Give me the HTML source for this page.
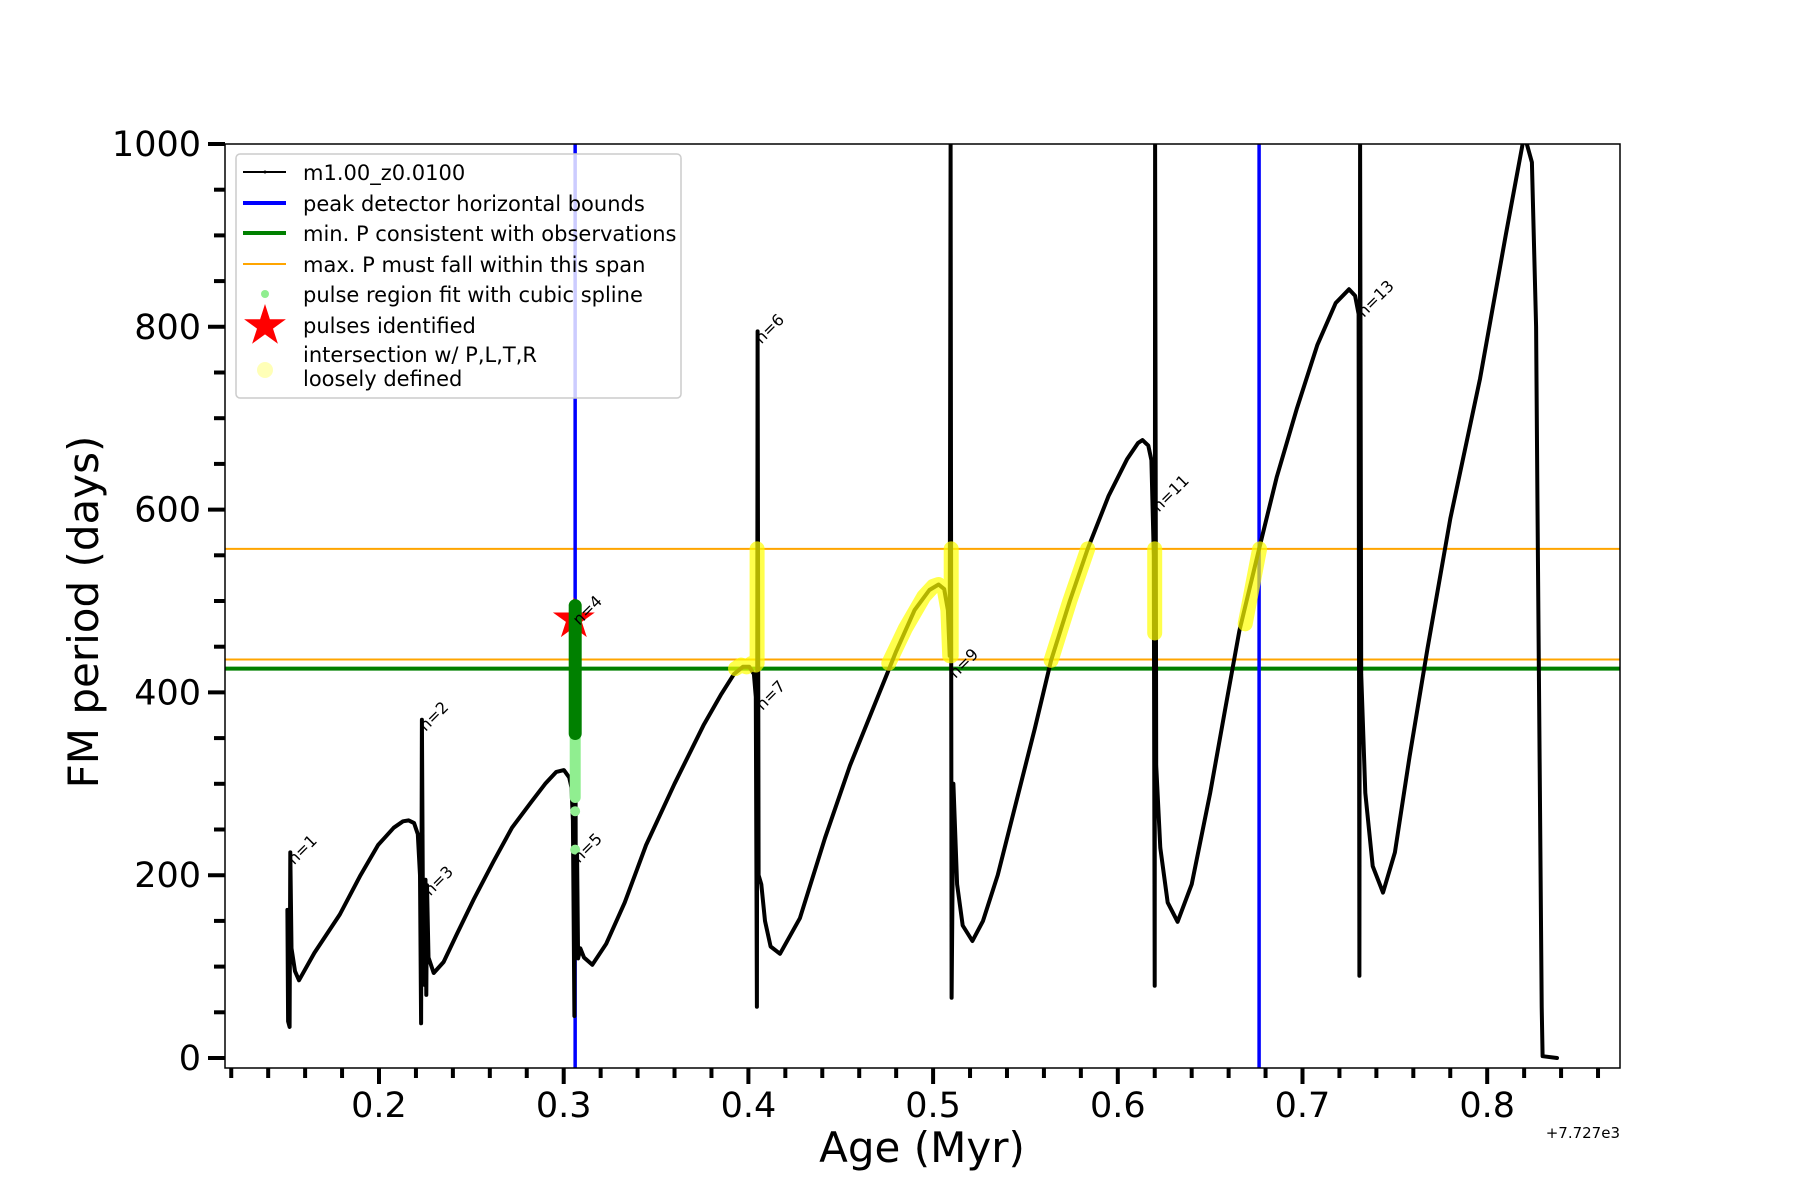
<!DOCTYPE html>
<html><head><meta charset="utf-8"><style>
html,body{margin:0;padding:0;background:#fff}
svg{display:block;font-family:"DejaVu Sans","Liberation Sans",sans-serif}
</style></head><body>
<svg id="chart" width="1800" height="1200" viewBox="0 0 1800 1200" xmlns="http://www.w3.org/2000/svg">
<rect x="0" y="0" width="1800" height="1200" fill="#fff"/>
<g id="plot"></g>
<rect x="225" y="144" width="1395" height="924" fill="none" stroke="#000" stroke-width="1.5"/>
<g id="axes"></g>
<text x="922" y="1162" font-size="42" text-anchor="middle">Age (Myr)</text>
<text x="0" y="0" font-size="42" text-anchor="middle" transform="translate(98,612) rotate(-90)">FM period (days)</text>
<text x="1620" y="1138" font-size="15" text-anchor="end">+7.727e3</text>
<g>
<rect x="236" y="154" width="445" height="244" rx="4" fill="#fff" fill-opacity="0.8" stroke="#ccc" stroke-width="1.5"/>
<g><line x1="243" y1="172" x2="286" y2="172" stroke="#000" stroke-width="2"/><circle cx="265" cy="172" r="1.5"/><text x="303" y="180" font-size="21">m1.00_z0.0100</text></g>
<g><line x1="243" y1="203" x2="286" y2="203" stroke="#0000ff" stroke-width="4"/><text x="303" y="211" font-size="21">peak detector horizontal bounds</text></g>
<g><line x1="243" y1="233" x2="286" y2="233" stroke="#008000" stroke-width="4"/><text x="303" y="241" font-size="21">min. P consistent with observations</text></g>
<g><line x1="243" y1="264" x2="286" y2="264" stroke="#ffa500" stroke-width="2"/><text x="303" y="272" font-size="21">max. P must fall within this span</text></g>
<g><circle cx="265" cy="294" r="4" fill="#90ee90"/><text x="303" y="302" font-size="21">pulse region fit with cubic spline</text></g>
<g><polygon id="legstar" fill="#ff0000"/><text x="303" y="333" font-size="21">pulses identified</text></g>
<g><circle cx="265" cy="370" r="8" fill="#ffff99" fill-opacity="0.7"/><text x="303" y="362" font-size="21">intersection w/ P,L,T,R</text><text x="303" y="386" font-size="21">loosely defined</text></g>
</g>
</svg>
<script>
const ages=[0.1504,0.1508,0.1516,0.1520,0.1526,0.1545,0.1567,0.1650,0.1788,0.1900,0.1995,0.2080,0.2130,0.2161,0.2190,0.2210,0.2222,0.2228,0.2232,0.2238,0.2248,0.2252,0.2256,0.2260,0.2268,0.2296,0.2350,0.2420,0.2514,0.2620,0.2720,0.2824,0.2900,0.2960,0.3001,0.3030,0.3042,0.3050,0.3058,0.3062,0.3066,0.3072,0.3078,0.3090,0.3110,0.3155,0.3230,0.3330,0.3446,0.3600,0.3757,0.3850,0.3922,0.3970,0.4005,0.4030,0.4040,0.4046,0.4050,0.4055,0.4070,0.4090,0.4120,0.4171,0.4279,0.4415,0.4550,0.4700,0.4800,0.4900,0.4980,0.5030,0.5060,0.5080,0.5090,0.5095,0.5100,0.5110,0.5130,0.5160,0.5213,0.5270,0.5350,0.5450,0.5550,0.5639,0.5740,0.5837,0.5950,0.6050,0.6110,0.6134,0.6165,0.6182,0.6195,0.6200,0.6202,0.6208,0.6230,0.6270,0.6324,0.6400,0.6500,0.6580,0.6658,0.6765,0.6860,0.6970,0.7080,0.7180,0.7252,0.7285,0.7304,0.7308,0.7312,0.7318,0.7340,0.7380,0.7436,0.7500,0.7580,0.7677,0.7800,0.7961,0.8100,0.8201,0.8242,0.8265,0.8272,0.8295,0.8300,0.8378];
const periods=[162,40,34,225,120,95,85,115,157,200,233,252,259,260,257,245,200,38,370,150,80,195,69,189,110,93,105,135,174,215,252,280,300,313,315,307,296,260,46,495,115,230,109,120,110,102,125,170,233,300,364,397,420,428,428,420,395,56,795,200,190,150,122,114,153,241,320,395,445,490,512,518,513,490,440,1000,66,300,190,145,128,150,200,280,360,435,500,557,615,655,673,676,670,654,550,79,1000,320,230,170,149,190,290,380,467,557,635,711,780,826,841,834,814,90,1000,420,290,210,181,225,330,448,590,743,900,1010,980,800,615,56,2,0];
const yellowAges=[0.3930,0.3960,0.3990,0.4020,0.4040,null,0.4047,0.4047,null,0.4760,0.4850,0.4950,0.5000,0.5030,0.5060,0.5080,0.5090,null,0.5098,0.5098,null,0.5639,0.5740,0.5837,null,0.6200,0.6200,null,0.6690,0.6768];
const yellowPeriods=[426,430,428,432,430,null,432,557,null,432,470,505,516,518,513,490,440,null,440,557,null,435,500,557,null,465,557,null,475,557];
const fitDarkAges=[0.3062,0.3062];
const fitDarkPeriods=[355,495];
const fitLightAges=[0.3062,0.3062];
const fitLightPeriods=[285,355];
const fitDotAges=[0.3062,0.3062];
const fitDotPeriods=[270,228];
const pulseAges=[0.3055];
const pulsePeriods=[480];
const boundAges=[0.3062,0.6765];
const minP=[426];
const maxP=[436,557];
const labelTexts=["n=1","n=2","n=3","n=4","n=5","n=6","n=7","n=9","n=11","n=13"];
const labelAges=[0.1524,0.2236,0.2262,0.3068,0.3068,0.4054,0.4060,0.5105,0.6206,0.7316];
const labelPeriods=[226,372,192,488,228,796,395,430,612,825];
const xTickVals=[0.2,0.3,0.4,0.5,0.6,0.7,0.8];
const xTickLabels=["0.2","0.3","0.4","0.5","0.6","0.7","0.8"];
const yTickVals=[0,200,400,600,800,1000];
const yTickLabels=["0","200","400","600","800","1000"];

const X=v=>379+(v-0.2)*1847;
const Y=v=>1058-v*0.914;
const NS="http://www.w3.org/2000/svg";
const plot=document.getElementById('plot');
const axes=document.getElementById('axes');
function mk(tag,attrs,parent){const e=document.createElementNS(NS,tag);for(const k in attrs)e.setAttribute(k,attrs[k]);parent.appendChild(e);return e;}
const defs=mk('defs',{},plot);
const cp=mk('clipPath',{id:'clip'},defs);mk('rect',{x:225,y:144,width:1395,height:924},cp);
const g=mk('g',{'clip-path':'url(#clip)'},plot);
function pathFrom(a,p){let d='',pen=false;for(let i=0;i<a.length;i++){if(a[i]===null){pen=false;continue;}d+=(pen?'L':'M')+X(a[i]).toFixed(1)+' '+Y(p[i]).toFixed(1);pen=true;}return d;}
maxP.forEach(v=>{const l=mk('line',{x1:225,x2:1620,y1:Y(v),y2:Y(v),stroke:'#ffa500','stroke-width':2},g);

});
minP.forEach(v=>{const l=mk('line',{x1:225,x2:1620,y1:Y(v),y2:Y(v),stroke:'#008000','stroke-width':4},g);

});
boundAges.forEach(v=>{const l=mk('line',{x1:X(v),x2:X(v),y1:144,y2:1068,stroke:'#0000ff','stroke-width':3.5},g);

});
const c=mk('path',{d:pathFrom(ages,periods),fill:'none',stroke:'#000','stroke-width':4,'stroke-linejoin':'round','stroke-linecap':'round'},g);


const yl=mk('path',{d:pathFrom(yellowAges,yellowPeriods),fill:'none',stroke:'#ffff00','stroke-opacity':0.7,'stroke-width':15,'stroke-linecap':'round','stroke-linejoin':'round'},g);


const fl=mk('path',{d:pathFrom(fitLightAges,fitLightPeriods),stroke:'#90ee90','stroke-width':11,'stroke-linecap':'round'},g);


fitDotAges.forEach((a,i)=>{const d=mk('circle',{cx:X(a),cy:Y(fitDotPeriods[i]),r:5,fill:'#90ee90'},g);

});
function star(cx,cy,R){const r=R*0.38;let pts=[];for(let i=0;i<10;i++){const ang=-Math.PI/2+i*Math.PI/5;const rr=i%2?r:R;pts.push((cx+rr*Math.cos(ang)).toFixed(1)+','+(cy+rr*Math.sin(ang)).toFixed(1));}return pts.join(' ');}
pulseAges.forEach((a,i)=>{const s=mk('polygon',{points:star(X(a),Y(pulsePeriods[i]),22),fill:'#ff0000'},g);

});
const fd=mk('path',{d:pathFrom(fitDarkAges,fitDarkPeriods),stroke:'#008000','stroke-width':13,'stroke-linecap':'round'},g);


document.getElementById('legstar').setAttribute('points',star(265,326,22));
labelTexts.forEach((t,i)=>{const x=X(labelAges[i])+3,y=Y(labelPeriods[i])+14;const e=mk('text',{x:x,y:y,'font-size':16,transform:`rotate(-45 ${x} ${y})`},plot);e.textContent=t;

});
for(let k=0;k<=37;k++){const v=0.12+k*0.02;if(v>0.871)break;const major=Math.abs((v*10)-Math.round(v*10))<1e-6;const t=mk('line',{x1:X(v),x2:X(v),y1:1068,y2:major?1084:1078,stroke:'#000','stroke-width':4},axes);

}
xTickVals.forEach((v,i)=>{const e=mk('text',{x:X(v),y:1117,'font-size':35,'text-anchor':'middle'},axes);e.textContent=xTickLabels[i];

});
for(let v=0;v<=1000;v+=50){const major=v%200===0;const t=mk('line',{x1:major?208:214,x2:225,y1:Y(v),y2:Y(v),stroke:'#000','stroke-width':4},axes);

}
yTickVals.forEach((v,i)=>{const e=mk('text',{x:201,y:Y(v)+12,'font-size':35,'text-anchor':'end'},axes);e.textContent=yTickLabels[i];

});
</script>
</body></html>
